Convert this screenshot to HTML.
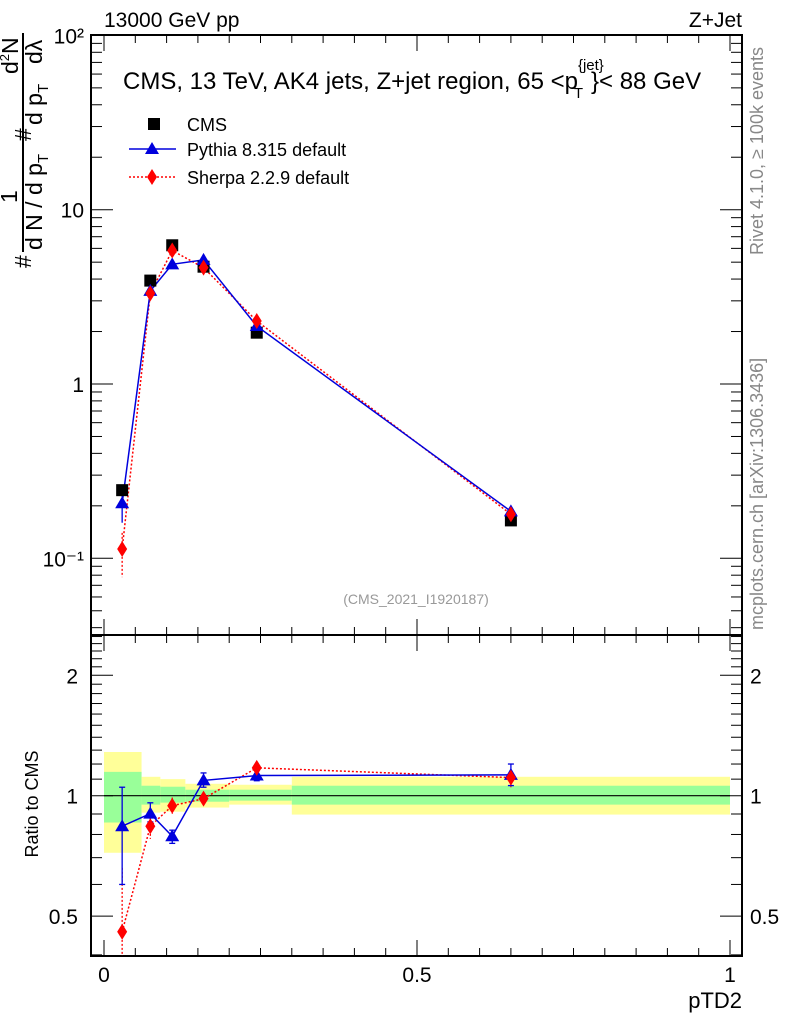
<!DOCTYPE html>
<html><head><meta charset="utf-8"><style>
body{margin:0;background:#fff}
svg{display:block;font-family:"Liberation Sans",sans-serif}
</style></head><body>
<svg id="c" width="786" height="1024" xmlns="http://www.w3.org/2000/svg">
<g id="g"></g>
</svg>
<script>
const xEdges=[0,0.06,0.09,0.13,0.2,0.3,1.0];
const xPts=[0.029,0.074,0.109,0.159,0.244,0.65];
const cmsVals=[0.246,3.92,6.25,4.71,1.97,0.165];
const pythiaVals=[0.207,3.42,4.86,5.15,2.15,0.186];
const sherpaVals=[0.113,3.31,5.83,4.65,2.3,0.179];
const pythiaRatio=[0.839,0.902,0.792,1.092,1.123,1.127];
const pythiaRatioLo=[0.60,0.86,0.76,1.05,1.09,1.06];
const pythiaRatioHi=[1.05,0.96,0.82,1.14,1.16,1.20];
const sherpaRatio=[0.457,0.839,0.944,0.983,1.174,1.11];
const sherpaRatioLo=[0.38,0.78,0.90,0.95,1.14,1.05];
const sherpaRatioHi=[0.66,0.88,0.99,1.02,1.21,1.16];
const yellowHi=[1.286,1.115,1.10,1.071,1.065,1.115];
const yellowLo=[0.72,0.907,0.912,0.934,0.95,0.897];
const greenHi=[1.147,1.059,1.053,1.035,1.035,1.059];
const greenLo=[0.857,0.95,0.961,0.966,0.972,0.95];
const mainTicks=["10\u207B\u00B9","1","10","10\u00B2"];
const ratioTicks=["0.5","1","2"];
const xTickLabels=["0","0.5","1"];

const L=91,R=742,T=35,M=635,B=956;
const X=v=>104+v*626;
const Y=v=>384-Math.log10(v)*174.3;
const YR=v=>795.7-Math.log10(v)*400;
const g=document.getElementById('g');
const NS='http://www.w3.org/2000/svg';
function el(t,a,txt){const e=document.createElementNS(NS,t);for(const k in a)e.setAttribute(k,a[k]);if(txt!==undefined)e.textContent=txt;g.appendChild(e);return e;}
function line(x1,y1,x2,y2,s,w,d){return el('line',{x1,y1,x2,y2,stroke:s||'#000','stroke-width':w||1,'stroke-dasharray':d||'none'});}

for(let i=0;i<6;i++){
 const r=el('rect',{x:X(xEdges[i]),y:YR(yellowHi[i]),width:X(xEdges[i+1])-X(xEdges[i]),height:YR(yellowLo[i])-YR(yellowHi[i]),fill:'#ffff99'});
 
 
 const q=el('rect',{x:X(xEdges[i]),y:YR(greenHi[i]),width:X(xEdges[i+1])-X(xEdges[i]),height:YR(greenLo[i])-YR(greenHi[i]),fill:'#99ff99'});
 
 
}
line(X(0),YR(1),X(1),YR(1),'#000',1.2);

el('rect',{x:L,y:T,width:R-L,height:M-T,fill:'none',stroke:'#000','stroke-width':2});
el('rect',{x:L,y:M,width:R-L,height:B-M,fill:'none',stroke:'#000','stroke-width':2});

for(let k=0;k<=20;k++){const v=k*0.05,x=X(v),maj=k%10==0;
 line(x,B,x,B-(maj?16:8));line(x,M,x,M+(maj?16:8));line(x,M,x,M-(maj?16:8));line(x,T,x,T+(maj?16:8));
}
xTickLabels.forEach((s,i)=>{const t=el('text',{x:X(i*0.5),y:982,'font-size':21,'text-anchor':'middle'},s);});
for(let d=-2;d<=2;d++)for(let m=1;m<10;m++){const v=m*Math.pow(10,d),y=Y(v);if(y<T||y>M)continue;const len=m==1?22:11;line(L,y,L+len,y);line(R,y,R-len,y);}
mainTicks.forEach((s,i)=>{const v=Math.pow(10,i-1);const t=el('text',{x:84,y:Y(v)+8,'font-size':21,'text-anchor':'end'},s);});
for(let k=4;k<=25;k++){const v=k/10,y=YR(v);if(y<M||y>B)continue;const maj=(k==5||k==10||k==20);const len=maj?22:11;line(L,y,L+len,y);line(R,y,R-len,y);}
ratioTicks.forEach(s=>{const v=parseFloat(s);const a=el('text',{x:78,y:YR(v)+8,'font-size':21,'text-anchor':'end'},s);const b=el('text',{x:750,y:YR(v)+8,'font-size':21},s);});

function poly(xs,ys,col,dash,name){const p=el('polyline',{points:xs.map((x,i)=>X(x)+','+ys[i]).join(' '),fill:'none',stroke:col,'stroke-width':1.5,'stroke-dasharray':dash||'none'});}
function tri(x,y,col){const p=el('polygon',{points:`${x},${y-7} ${x-7},${y+5} ${x+7},${y+5}`,fill:col});}
function dia(x,y,col){const p=el('polygon',{points:`${x},${y-8} ${x+5},${y} ${x},${y+8} ${x-5},${y}`,fill:col});}
poly(xPts,sherpaVals.map(Y),'#ff0000','2,2','sherpa-line');
poly(xPts,pythiaVals.map(Y),'#0000dd',null,'pythia-line');
line(X(xPts[0]),Y(0.14),X(xPts[0]),Y(0.078),'#ff0000',1.3,'2,2');
line(X(xPts[0]),Y(0.26),X(xPts[0]),Y(0.16),'#0000dd',1.3);
cmsVals.forEach((v,i)=>{const r=el('rect',{x:X(xPts[i])-6,y:Y(v)-6,width:12,height:12,fill:'#000'});});
pythiaVals.forEach((v,i)=>tri(X(xPts[i]),Y(v),'#0000dd'));
sherpaVals.forEach((v,i)=>dia(X(xPts[i]),Y(v),'#ff0000'));

poly(xPts,sherpaRatio.map(YR),'#ff0000','2,2','sherpa-ratio-line');
poly(xPts,pythiaRatio.map(YR),'#0000dd',null,'pythia-ratio-line');
xPts.forEach((x,i)=>{const px=X(x);
 line(px,YR(sherpaRatioHi[i]),px,Math.min(B,YR(sherpaRatioLo[i])),'#ff0000',1.3,'2,2');
 line(px,YR(pythiaRatioHi[i]),px,YR(pythiaRatioLo[i]),'#0000dd',1.3);
 line(px-3,YR(pythiaRatioHi[i]),px+3,YR(pythiaRatioHi[i]),'#0000dd',1.3);
 line(px-3,YR(pythiaRatioLo[i]),px+3,YR(pythiaRatioLo[i]),'#0000dd',1.3);
 tri(px,YR(pythiaRatio[i]),'#0000dd');dia(px,YR(sherpaRatio[i]),'#ff0000');
});
</script>
<svg width="786" height="1024" style="position:absolute;left:0;top:0" xmlns="http://www.w3.org/2000/svg" font-family="Liberation Sans, sans-serif">
<text x="104" y="27" font-size="21">13000 GeV pp</text>
<text x="742" y="27" font-size="21" text-anchor="end">Z+Jet</text>
<text x="123" y="89" font-size="24">CMS, 13 TeV, AK4 jets, Z+jet region, 65 &lt;p<tspan font-size="15" dy="-19">{jet}</tspan><tspan font-size="15" dx="-30" dy="28">T</tspan><tspan dy="-9" dx="8">}&lt; 88 GeV</tspan></text>
<g>
<rect x="148" y="118" width="12" height="12" fill="#000"/>
<text x="187" y="131" font-size="18">CMS</text>
<line x1="129" y1="149" x2="176" y2="149" stroke="#0000dd" stroke-width="1.5"/>
<polygon points="152,142 145,154 159,154" fill="#0000dd"/>
<text x="187" y="156" font-size="18">Pythia 8.315 default</text>
<line x1="129" y1="177" x2="176" y2="177" stroke="#ff0000" stroke-width="1.5" stroke-dasharray="2,2"/>
<polygon points="152,169 157,177 152,185 147,177" fill="#ff0000"/>
<text x="187" y="184" font-size="18">Sherpa 2.2.9 default</text>
</g>
<text x="416" y="604" font-size="14" fill="#999" text-anchor="middle">(CMS_2021_I1920187)</text>
<text x="742" y="1008" font-size="22" text-anchor="end">pTD2</text>
<text transform="translate(38,804) rotate(-90)" font-size="18" text-anchor="middle">Ratio to CMS</text>
<text transform="translate(763,255) rotate(-90)" font-size="18" fill="#888">Rivet 4.1.0, ≥ 100k events</text>
<text transform="translate(763,630) rotate(-90)" font-size="18" fill="#888">mcplots.cern.ch [arXiv:1306.3436]</text>
<g transform="translate(0,270) rotate(-90)" font-size="23">
<line x1="18" y1="23" x2="237" y2="23" stroke="#000" stroke-width="2"/>
<text x="2" y="31">#</text>
<text x="67" y="17">1</text>
<text x="20" y="42">d N / d p<tspan font-size="15" dy="6">T</tspan></text>
<text x="129" y="31">#</text>
<text x="145" y="42">d p<tspan font-size="15" dy="6">T</tspan></text>
<text x="196" y="18">d<tspan font-size="13" dy="-9">2</tspan><tspan dy="9">N</tspan></text>
<text x="206" y="42">dλ</text>
</g>
</svg>
</body></html>
